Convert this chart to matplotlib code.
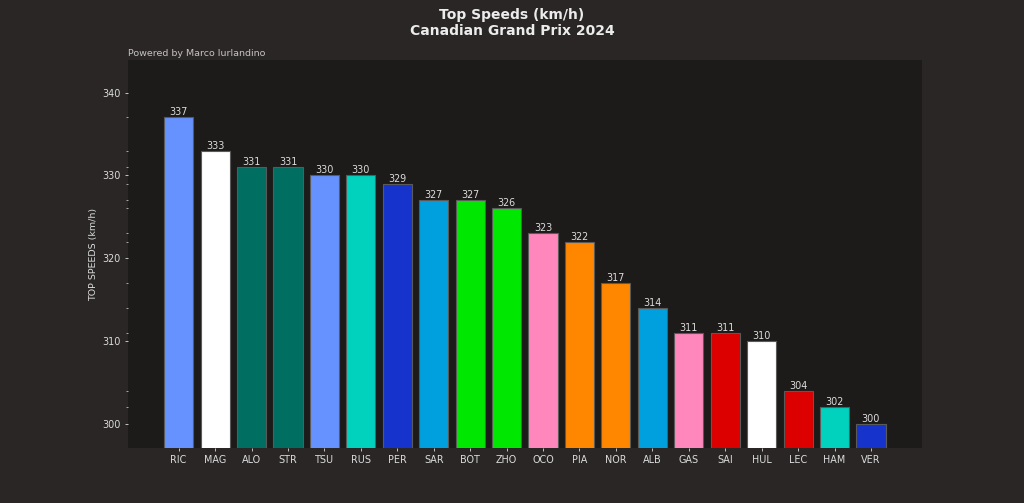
import matplotlib
matplotlib.use('Agg')
import matplotlib.pyplot as plt
import numpy as np

# Top speeds per driver, Canadian GP 2024
drivers = ['RIC', 'MAG', 'ALO', 'STR', 'TSU', 'RUS', 'PER', 'SAR', 'BOT', 'ZHO',
           'OCO', 'PIA', 'NOR', 'ALB', 'GAS', 'SAI', 'HUL', 'LEC', 'HAM', 'VER']
speeds = [337, 333, 331, 331, 330, 330, 329, 327, 327, 326,
          323, 322, 317, 314, 311, 311, 310, 304, 302, 300]
team_colors = ['#6692FF', '#FFFFFF', '#006F62', '#006F62', '#6692FF', '#00D2BE',
               '#1634CB', '#00A0DE', '#00E701', '#00E701', '#FF87BC', '#FF8700',
               '#FF8700', '#00A0DE', '#FF87BC', '#DC0000', '#FFFFFF', '#DC0000',
               '#00D2BE', '#1634CB']

fig_bg = '#292625'
ax_bg = '#1d1b1a'
text_color = '#dcdcdc'

fig, ax = plt.subplots(figsize=(10.24, 5.03), dpi=100)
fig.patch.set_facecolor(fig_bg)
ax.set_facecolor(ax_bg)

index = np.arange(len(drivers))
bars = ax.bar(index, speeds, width=0.8, color=team_colors,
              edgecolor='#5a5a5a', linewidth=0.8)

# value labels on top of each bar
for bar, val in zip(bars, speeds):
    ax.text(bar.get_x() + bar.get_width() / 2, val, str(val),
            ha='center', va='bottom', fontsize=6.9, color=text_color)

ax.set_ylim(min(speeds) - 2.9, max(speeds) + 6.9)
ax.set_xticks(index)
ax.set_xticklabels(drivers)
ax.set_yticks([300, 310, 320, 330, 340])
# minor ticks at every recorded top speed
ax.set_yticks(sorted(set(speeds)), minor=True)
ax.tick_params(axis='both', colors=text_color, labelsize=6.9, length=2.3,
               width=0.6, pad=3.2)
ax.tick_params(axis='y', which='minor', colors=text_color, length=1.3, width=0.5)

for spine in ax.spines.values():
    spine.set_visible(False)

ax.set_ylabel('TOP SPEEDS (km/h)', color=text_color, fontsize=6.8, labelpad=3)
ax.set_title('Powered by Marco Iurlandino', loc='left', fontsize=6.8,
             color='#c4c4c4', pad=3)
fig.suptitle('Top Speeds (km/h)\nCanadian Grand Prix 2024', fontsize=10,
             fontweight='bold', color='#ececec', y=0.985)

plt.savefig('out.png', facecolor=fig_bg)
